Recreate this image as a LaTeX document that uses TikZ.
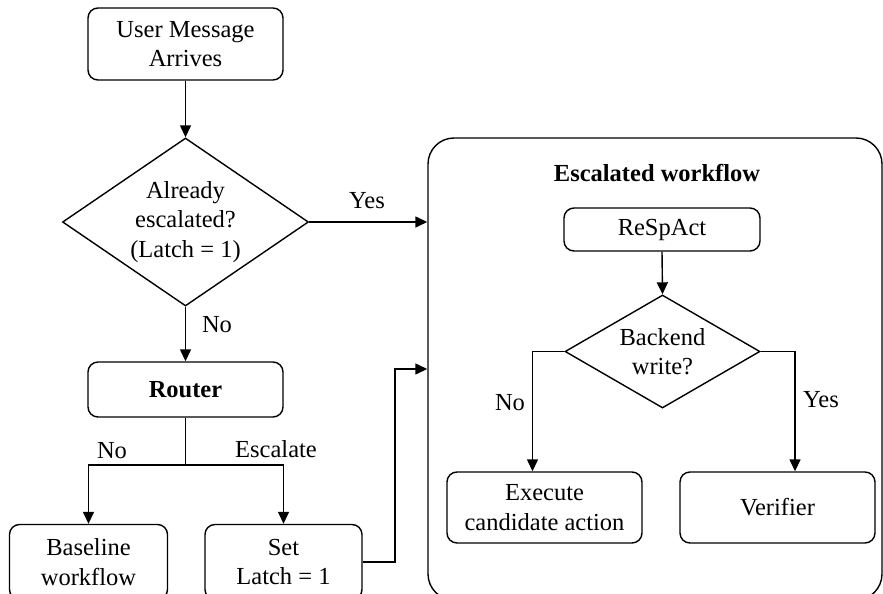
\documentclass[tikz,border=0pt]{standalone}
\usepackage{fontspec}
\setmainfont{Liberation Serif}
\usetikzlibrary{shapes.geometric,arrows.meta}
\begin{document}
\begin{tikzpicture}[x=1pt,y=-1pt,
  every node/.style={font=\fontsize{24.5}{29.5}\selectfont},
  box/.style={draw, rounded corners=10pt, line width=1.4pt, align=center, inner sep=0pt},
  dia/.style={draw, diamond, line width=1.4pt, align=center, inner sep=0pt},
  bigbox/.style={draw, rounded corners=26pt, line width=1.4pt, inner sep=0pt},
  arr/.style={-{Triangle[length=12pt,width=11pt]}, line width=1.4pt},
  ln/.style={line width=1.4pt},
  lbl/.style={inner sep=0pt}]
\useasboundingbox (0,0) rectangle (883,594);

% left column
\node[box, minimum width=195pt, minimum height=72pt] (user) at (185.5,44) {User Message\\Arrives};
\node[dia, aspect=1.46, minimum width=246pt, minimum height=168pt] (dia) at (185.5,222) {Already\\escalated?\\(Latch = 1)};
\node[box, minimum width=195pt, minimum height=55pt] (router) at (185.5,389.5) {\textbf{Router}};
\node[box, minimum width=158pt, minimum height=75pt] (base) at (88.5,562) {Baseline\\workflow};
\node[box, minimum width=157pt, minimum height=75pt] (set) at (283.5,562) {Set\\Latch = 1};

% escalated workflow container
\node[bigbox, minimum width=454pt, minimum height=462pt] (esc) at (655,369) {};
\node[lbl] (title) at (657,173) {\textbf{Escalated workflow}};
\node[box, minimum width=196pt, minimum height=43pt] (respact) at (662,229.5) {ReSpAct};
\node[dia, aspect=1.73, minimum width=195pt, minimum height=113pt] (bdia) at (662.5,351.5) {Backend\\write?};
\node[box, minimum width=195pt, minimum height=71pt] (exec) at (544.5,507.5) {Execute\\candidate action};
\node[box, minimum width=195pt, minimum height=71pt] (ver) at (777.5,507.5) {Verifier};

% connectors
\draw[arr] (user.south) -- (dia.north);
\draw[arr] (dia.east) -- (dia.east -| esc.west);
\node[lbl] (yes1) at (367,201) {Yes};
\draw[arr] (dia.south) -- (router.north);
\node[lbl] (no1) at (217,325) {No};
\coordinate (split) at (185.5,465);
\draw[ln] (router.south) -- (split);
\draw[arr] (split) -| (base.north);
\draw[arr] (split) -| (set.north);
\node[lbl] (no2) at (112,451) {No};
\node[lbl] (escl) at (276,449) {Escalate};
\coordinate (bend) at (395,562);
\draw[arr] (set.east) -- (bend) |- (esc.west);

\draw[arr] (respact.south) -- (bdia.north);
\coordinate (lx) at (532.5,0);
\coordinate (rx) at (795,0);
\draw[arr] (bdia.west) -| (lx |- exec.north);
\draw[arr] (bdia.east) -| (rx |- ver.north);
\node[lbl] (no3) at (510,403) {No};
\node[lbl] (yes2) at (821,400) {Yes};
\end{tikzpicture}
\end{document}
